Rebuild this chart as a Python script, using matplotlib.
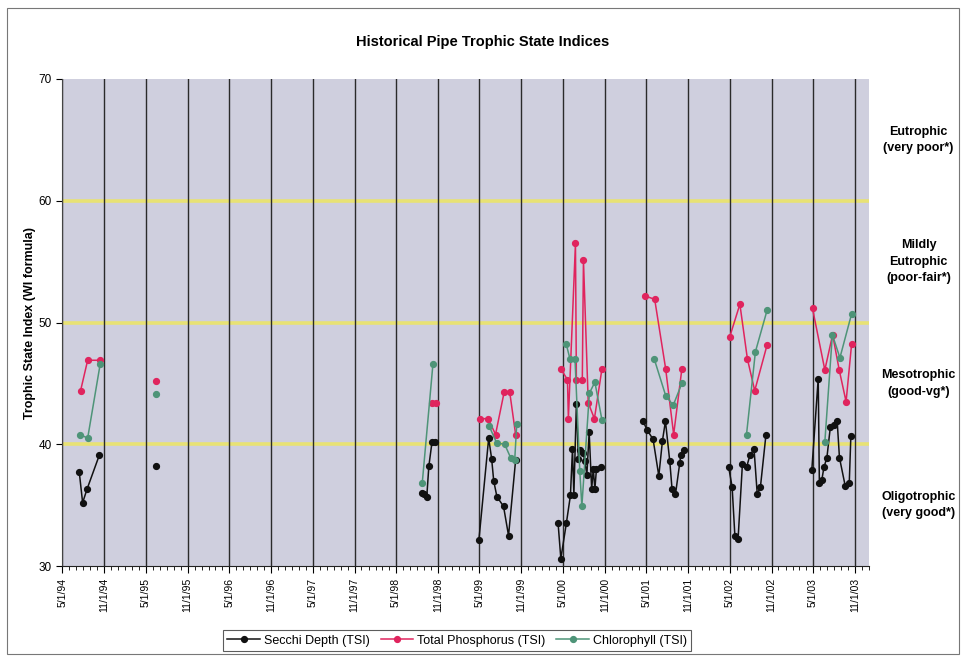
import numpy as np
import pandas as pd
import matplotlib
matplotlib.use("Agg")
import matplotlib.pyplot as plt
import matplotlib.dates as mdates
from matplotlib.patches import Rectangle

plt.rcParams['font.family'] = ['Liberation Sans', 'DejaVu Sans']

# 데이터
secchi_dates = ['1994-07-14', '1994-07-29', '1994-08-17', '1994-10-10',
                '1995-06-17',
                '1998-08-22', '1998-08-31', '1998-09-13', '1998-09-22', '1998-10-06', '1998-10-19',
                '1999-04-29', '1999-06-11', '1999-06-24', '1999-07-03', '1999-07-17', '1999-08-15',
                '1999-09-06', '1999-10-07',
                '2000-04-10', '2000-04-22', '2000-05-16', '2000-06-03', '2000-06-12', '2000-06-18',
                '2000-06-29', '2000-07-08', '2000-07-14', '2000-07-29', '2000-08-05', '2000-08-14',
                '2000-08-24', '2000-09-04', '2000-09-11', '2000-09-18', '2000-09-25', '2000-10-14',
                '2001-04-17', '2001-05-04', '2001-05-31', '2001-06-25', '2001-07-11', '2001-07-24',
                '2001-08-12', '2001-08-22', '2001-09-06', '2001-09-25', '2001-09-29', '2001-10-14',
                '2002-04-27', '2002-05-12', '2002-05-24', '2002-06-07', '2002-06-26', '2002-07-14',
                '2002-07-29', '2002-08-16', '2002-08-30', '2002-09-13', '2002-10-07',
                '2003-04-26', '2003-05-24', '2003-05-29', '2003-06-09', '2003-06-18', '2003-07-01',
                '2003-07-16', '2003-07-31', '2003-08-15', '2003-08-25', '2003-09-19', '2003-10-07',
                '2003-10-14']
secchi_tsi = [37.75, 35.2, 36.3, 39.1,
              38.2,
              36.0, 35.9, 35.7, 38.2, 40.2, 40.2,
              32.1, 40.5, 38.8, 37.0, 35.7, 34.9, 32.5, 38.7,
              33.5, 30.6, 33.5, 35.8, 39.6, 35.8, 43.3, 38.8, 39.5, 39.3, 38.6, 37.5,
              41.0, 36.3, 38.0, 36.3, 38.0, 38.1,
              41.9, 41.2, 40.4, 37.4, 40.3, 41.9, 38.6, 36.3, 35.9, 38.5, 39.1, 39.5,
              38.1, 36.5, 32.5, 32.2, 38.35, 38.1, 39.1, 39.6, 35.9, 36.5, 40.75,
              37.9, 45.4, 36.8, 37.1, 38.1, 38.9, 41.4, 41.6, 41.9, 38.9, 36.6, 36.85, 40.7]

phos_dates = ['1994-07-20', '1994-08-20', '1994-10-14',
              '1995-06-17',
              '1998-10-04', '1998-10-22',
              '1999-05-04', '1999-06-09', '1999-07-11', '1999-08-18', '1999-09-11', '1999-10-07',
              '2000-04-22', '2000-05-21', '2000-05-25', '2000-06-25', '2000-06-29', '2000-07-25',
              '2000-07-30', '2000-08-20', '2000-09-16', '2000-10-19',
              '2001-04-24', '2001-06-07', '2001-07-25', '2001-08-29', '2001-10-04',
              '2002-05-02', '2002-06-15', '2002-07-18', '2002-08-19', '2002-10-12',
              '2003-04-29', '2003-06-22', '2003-07-26', '2003-08-24', '2003-09-23', '2003-10-17']
phos_tsi = [44.4, 46.9, 46.9,
            45.2,
            43.4, 43.4,
            42.1, 42.1, 40.8, 44.3, 44.3, 40.8,
            46.2, 45.3, 42.1, 56.5, 45.3, 45.3, 55.1, 43.4, 42.1, 46.2,
            52.2, 51.9, 46.2, 40.8, 46.2,
            48.85, 51.5, 47.0, 44.4, 48.15,
            51.15, 46.1, 49.0, 46.1, 43.5, 48.2]

chl_dates = ['1994-07-18', '1994-08-20', '1994-10-14',
             '1995-06-17',
             '1998-08-24', '1998-10-10',
             '1999-06-13', '1999-07-16', '1999-08-20', '1999-09-15', '1999-10-03', '1999-10-12',
             '2000-05-16', '2000-06-01', '2000-06-23', '2000-07-14', '2000-07-23', '2000-08-25',
             '2000-09-18', '2000-10-19',
             '2001-06-05', '2001-07-25', '2001-08-27', '2001-10-04',
             '2002-07-14', '2002-08-22', '2002-10-12',
             '2003-06-22', '2003-07-25', '2003-08-27', '2003-10-17']
chl_tsi = [40.8, 40.5, 46.6,
           44.1,
           36.8, 46.6,
           41.5, 40.1, 40.0, 38.9, 38.7, 41.7,
           48.2, 47.0, 47.0, 37.8, 34.9, 44.2, 45.1, 42.0,
           47.0, 44.0, 43.2, 45.0,
           40.8, 47.6, 51.0,
           40.2, 49.0, 47.1, 50.7]

series = [('Secchi Depth (TSI)', secchi_dates, secchi_tsi, '#111111'),
          ('Total Phosphorus (TSI)', phos_dates, phos_tsi, '#E0245E'),
          ('Chlorophyll (TSI)', chl_dates, chl_tsi, '#4E9478')]

zones = ['Eutrophic\n(very poor*)', 'Mildly\nEutrophic\n(poor-fair*)',
         'Mesotrophic\n(good-vg*)', 'Oligotrophic\n(very good*)']
zone_y = [65, 55, 45, 35]

fig = plt.figure(figsize=(9.66, 6.61), dpi=100)
ax = fig.add_axes([0.0645, 0.1437, 0.835, 0.7368])
ax.set_facecolor('#CFCFDE')

# 구간 경계선 (노란색)
for yv in [40, 50, 60]:
    ax.axhline(yv, color='#E8E274', lw=2.6, zorder=1)

# 시즌별로 끊어서 그리기
for name, d, v, c in series:
    s = pd.Series(v, index=pd.to_datetime(d))
    grp = (s.index.to_series().diff() > pd.Timedelta(days=120)).cumsum()
    first = True
    for _, part in s.groupby(grp.values):
        ax.plot(part.index, part.values, color=c, lw=1.1, marker='o', ms=4.2,
                label=name if first else None, zorder=3)
        first = False

ax.set_ylim(30, 70)
ax.set_yticks([30, 40, 50, 60, 70])
ax.set_xlim(pd.Timestamp('1994-05-01'), pd.Timestamp('2004-01-01'))
ax.xaxis.set_major_locator(mdates.MonthLocator(bymonth=[5, 11]))
ax.xaxis.set_minor_locator(mdates.MonthLocator())
ax.xaxis.set_major_formatter(plt.FuncFormatter(
    lambda x, p: '{d.month}/{d.day}/{y:02d}'.format(d=mdates.num2date(x), y=mdates.num2date(x).year % 100)))
ax.grid(axis='x', which='major', color='#2a2a2a', lw=1.0, zorder=2)
ax.tick_params(axis='x', which='major', labelrotation=90, labelsize=7.5, length=5)
ax.tick_params(axis='x', which='minor', length=3)
ax.tick_params(axis='y', labelsize=8.5, length=4)
for sp in ['top', 'right']:
    ax.spines[sp].set_visible(False)
ax.spines['left'].set_color('#444444')
ax.spines['bottom'].set_color('#222222')

ax.set_ylabel('Trophic State Index (WI formula)', fontsize=9, fontweight='bold', labelpad=2)
fig.text(0.5, 0.936, 'Historical Pipe Trophic State Indices', ha='center', va='center',
         fontsize=10.5, fontweight='bold')

for t, yv in zip(zones, zone_y):
    yf = ax.transData.transform((0, yv))[1]
    yf = fig.transFigure.inverted().transform((0, yf))[1]
    fig.text(0.951, yf, t, ha='center', va='center', fontsize=9, fontweight='bold',
             linespacing=1.5)

leg = fig.legend(loc='center', bbox_to_anchor=(0.473, 0.031), ncol=3, fontsize=9,
                 frameon=True, fancybox=False, edgecolor='#333333', handlelength=2.6,
                 columnspacing=0.9, handletextpad=0.3, borderpad=0.35)
leg.get_frame().set_linewidth(0.8)

fig.patches.append(Rectangle((0.007, 0.01), 0.986, 0.978, transform=fig.transFigure,
                             fill=False, edgecolor='#777777', lw=0.8))

fig.savefig('out.png', dpi=100)
